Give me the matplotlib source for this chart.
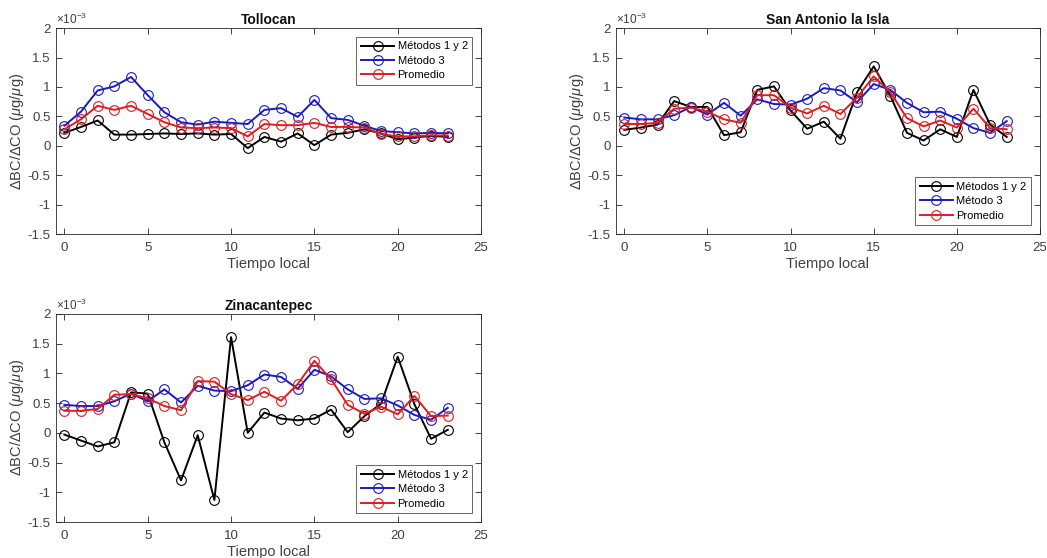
import matplotlib
matplotlib.use("Agg")
import matplotlib.pyplot as plt
from matplotlib.ticker import FuncFormatter

plt.rcParams['font.family'] = ['Liberation Sans', 'DejaVu Sans']
plt.rcParams['mathtext.fontset'] = 'custom'
plt.rcParams['mathtext.rm'] = 'Liberation Sans'
plt.rcParams['mathtext.it'] = 'Liberation Sans:italic'

hours = list(range(24))
series_names = ["Métodos 1 y 2", "Método 3", "Promedio"]
titles = ["Tollocan", "San Antonio la Isla", "Zinacantepec"]

# values in units of 1e-3 (µg/µg)
toll_m12 = [0.22, 0.32, 0.43, 0.19, 0.19, 0.20, 0.21, 0.20, 0.21, 0.19, 0.20, -0.04,
            0.15, 0.07, 0.21, 0.01, 0.19, 0.22, 0.28, 0.21, 0.11, 0.14, 0.17, 0.15]
toll_m3 = [0.34, 0.58, 0.94, 1.01, 1.17, 0.86, 0.57, 0.40, 0.36, 0.41, 0.39, 0.37,
           0.61, 0.64, 0.49, 0.78, 0.47, 0.44, 0.34, 0.25, 0.23, 0.21, 0.22, 0.21]
toll_prom = [0.28, 0.45, 0.68, 0.61, 0.68, 0.54, 0.40, 0.31, 0.30, 0.31, 0.30, 0.16,
             0.37, 0.35, 0.35, 0.39, 0.32, 0.32, 0.31, 0.20, 0.16, 0.16, 0.18, 0.17]

sai_m12 = [0.27, 0.31, 0.36, 0.76, 0.66, 0.66, 0.18, 0.23, 0.95, 1.01, 0.60, 0.29,
           0.41, 0.12, 0.91, 1.35, 0.85, 0.22, 0.09, 0.28, 0.15, 0.95, 0.36, 0.15]
sai_m3 = [0.48, 0.45, 0.45, 0.52, 0.66, 0.53, 0.73, 0.51, 0.79, 0.71, 0.70, 0.80,
          0.98, 0.94, 0.74, 1.05, 0.95, 0.73, 0.57, 0.58, 0.46, 0.30, 0.22, 0.42]
sai_prom = [0.37, 0.37, 0.39, 0.63, 0.65, 0.58, 0.45, 0.39, 0.86, 0.86, 0.65, 0.55,
            0.68, 0.54, 0.82, 1.18, 0.91, 0.47, 0.33, 0.43, 0.31, 0.63, 0.30, 0.28]

zin_m12 = [-0.03, -0.13, -0.23, -0.16, 0.68, 0.66, -0.16, -0.80, -0.04, -1.13, 1.61, 0.00,
           0.34, 0.24, 0.21, 0.24, 0.39, 0.01, 0.28, 0.49, 1.28, 0.48, -0.10, 0.05]
zin_m3 = [0.47, 0.45, 0.45, 0.53, 0.66, 0.53, 0.73, 0.51, 0.79, 0.71, 0.70, 0.80,
          0.98, 0.94, 0.74, 1.06, 0.95, 0.73, 0.57, 0.58, 0.46, 0.30, 0.22, 0.42]
zin_prom = [0.37, 0.37, 0.40, 0.64, 0.65, 0.58, 0.45, 0.38, 0.87, 0.86, 0.65, 0.55,
            0.69, 0.54, 0.82, 1.21, 0.90, 0.47, 0.32, 0.44, 0.31, 0.62, 0.28, 0.29]

datasets = [(toll_m12, toll_m3, toll_prom), (sai_m12, sai_m3, sai_prom), (zin_m12, zin_m3, zin_prom)]
colors = ["#000000", "#1a1ac0", "#dc1e1e"]
legend_locs = ["upper right", "lower right", "lower right"]

fig = plt.figure(figsize=(10.47, 5.58), dpi=100)
positions = [
    [0.0535, 0.5806, 0.406, 0.369],
    [0.5883, 0.5806, 0.405, 0.369],
    [0.0535, 0.0645, 0.406, 0.373],
]

fmt = FuncFormatter(lambda v, p: ("%g" % v).replace("\u2212", "-"))
axcol = "#262626"
tickcol = "#404040"

for pos, title, data, loc in zip(positions, titles, datasets, legend_locs):
    ax = fig.add_axes(pos)
    for vals, name, c in zip(data, series_names, colors):
        ax.plot(hours, vals, color=c, lw=1.4, marker='o', ms=7, mfc='none',
                mec=c, mew=0.8, label=name)
    ax.set_xlim(-0.5, 25)
    ax.set_ylim(-1.5, 2)
    ax.set_xticks([0, 5, 10, 15, 20, 25])
    ax.set_yticks([-1.5, -1, -0.5, 0, 0.5, 1, 1.5, 2])
    ax.yaxis.set_major_formatter(fmt)
    ax.xaxis.set_major_formatter(fmt)
    ax.tick_params(direction='in', length=4, width=0.6, top=True, right=True,
                   labelsize=9.5, colors=axcol, labelcolor=tickcol)
    ax.tick_params(axis='x', pad=6)
    ax.tick_params(axis='y', pad=4)
    for s in ax.spines.values():
        s.set_linewidth(0.6)
        s.set_color(axcol)
    ax.set_title(title, fontsize=10, fontweight='bold', pad=3, color='#111111')
    ax.set_xlabel("Tiempo local", fontsize=10.5, color=tickcol, labelpad=2)
    ax.set_ylabel(r"$\Delta$BC/$\Delta$CO ($\mu$g/$\mu$g)", fontsize=10.5, color=tickcol, labelpad=1)
    ax.text(0.0, 1.005, r"$\times10^{-3}$", transform=ax.transAxes, fontsize=8.5,
            color=tickcol, ha='left', va='bottom')
    leg = ax.legend(loc=loc, fontsize=8, frameon=True, fancybox=False,
                    borderaxespad=0.8, handlelength=3.0, handletextpad=0.3,
                    labelspacing=0.4, borderpad=0.4)
    leg.get_frame().set_edgecolor('#222222')
    leg.get_frame().set_linewidth(0.6)

fig.savefig("out.png", dpi=100)
